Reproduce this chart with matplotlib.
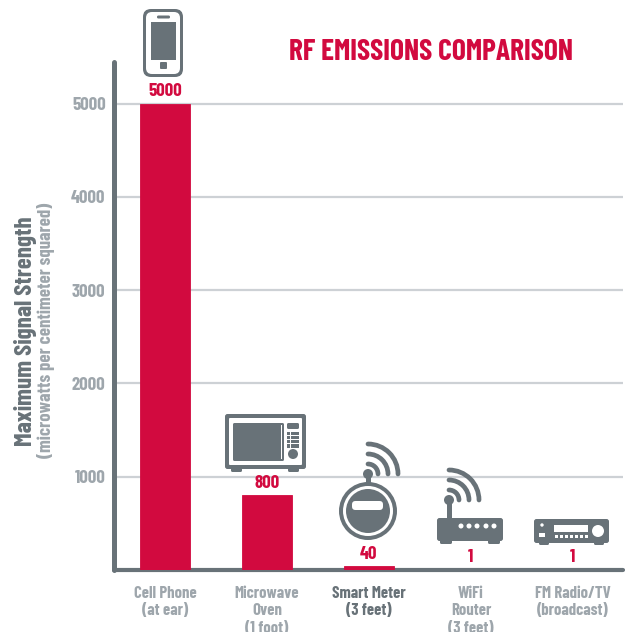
import matplotlib
matplotlib.use("Agg")
import matplotlib.pyplot as plt
from matplotlib.patches import FancyBboxPatch, Circle, Rectangle, Arc

# data
devices = ["Cell Phone\n(at ear)", "Microwave\nOven\n(1 foot)", "Smart Meter\n(3 feet)",
           "WiFi\nRouter\n(3 feet)", "FM Radio/TV\n(broadcast)"]
strength = [5000, 800, 40, 1, 1]
y_ticks = [1000, 2000, 3000, 4000, 5000]

RED = "#d20a3f"
DARK = "#687278"
GREY = "#9ea6ac"
GRID = "#cdd1d5"

plt.rcParams["font.family"] = ["Barlow Condensed", "Roboto"]
plt.rcParams["font.weight"] = "bold"

W, H = 629, 632
fig = plt.figure(figsize=(W / 100, H / 100), dpi=100)

# axes placed so that x=0 is left axis line and y=0 the base line (570 px)
left, right, top, bottom = 114, 623, 62, 570
ax = fig.add_axes([left / W, 1 - bottom / H, (right - left) / W, (bottom - top) / H])
ax.patch.set_alpha(0)
ax.set_ylim(0, (bottom - top) / 93.3 * 1000)
step = 102
ax.set_xlim((left - 165) / step, (right - 165) / step)

ax.set_axisbelow(True)
ax.yaxis.grid(True, color=GRID, lw=1.6)
bars = ax.bar(range(len(devices)), strength, width=50 / step, color=RED, edgecolor=RED, lw=0.6, zorder=3)
ax.bar_label(bars, labels=[str(v) for v in strength], padding=2.7, color=RED, fontsize=13.5, fontweight="bold")

ax.set_yticks(y_ticks)
ax.set_yticklabels([str(v) for v in y_ticks], color=GREY, fontsize=13.5)
ax.set_xticks(range(len(devices)))
ax.set_xticklabels(devices, color=GREY, fontsize=12, linespacing=1.2)
ax.get_xticklabels()[2].set_color(DARK)
ax.tick_params(axis="y", length=0, pad=6)
ax.tick_params(axis="x", length=0, pad=11.5)

for s in ["top", "right"]:
    ax.spines[s].set_visible(False)
ax.spines["left"].set_color(DARK)
ax.spines["left"].set_linewidth(3.6)
ax.spines["left"].set_capstyle("round")
ax.spines["bottom"].set_color(DARK)
ax.spines["bottom"].set_linewidth(3)
ax.spines["bottom"].set_capstyle("round")

fig.text(431 / W, 1 - 53 / H, "RF EMISSIONS COMPARISON", color=RED, fontsize=21.3,
         ha="center", va="center", fontweight="bold")
fig.text(26 / W, 1 - 331 / H, "Maximum Signal Strength", color=DARK, fontsize=18,
         rotation=90, ha="center", va="center")
fig.text(46 / W, 1 - 330 / H, "(microwatts per centimeter squared)", color=GREY, fontsize=13.5,
         rotation=90, ha="center", va="center")

# icon layer, in image pixels
ic = fig.add_axes([0, 0, 1, 1])
ic.set_xlim(0, W)
ic.set_ylim(H, 0)
ic.axis("off")
ic.patch.set_alpha(0)


def box(x0, y0, x1, y1, color=DARK, r=1.5, z=5):
    ic.add_patch(FancyBboxPatch((x0 + r, y0 + r), x1 - x0 - 2 * r, y1 - y0 - 2 * r,
                                boxstyle="round,pad=%f,rounding_size=%f" % (r, r),
                                fc=color, ec="none", zorder=z))


def dot(x, y, r, color=DARK, z=6):
    ic.add_patch(Circle((x, y), r, fc=color, ec="none", zorder=z))


def waves(x, y, radii=(10, 20, 30)):
    for r in radii:
        ic.add_patch(Arc((x, y), 2 * r, 2 * r, theta1=270, theta2=360, color=DARK,
                         lw=3.4, capstyle="round", zorder=5))


# phone
box(143, 9, 183, 77, r=8)
box(146, 12, 180, 74, color="white", r=6, z=5.5)
ic.add_patch(Rectangle((151, 22), 25, 37.5, fc=DARK, ec="none", zorder=6))
box(157, 15.5, 170, 18.5, r=1.4, z=6)
box(160, 62, 167, 69, r=1, z=6)

# microwave
box(225, 414, 306, 469, r=2.5)
box(229, 418, 302, 465, color="white", r=1, z=5.5)
box(233, 423, 284, 461, z=6)
ic.add_patch(Rectangle((280.5, 425), 1.5, 34, fc="white", ec="none", zorder=6.5))
box(287, 423, 299, 429, z=6)
for row in range(4):
    for col in range(3):
        ic.add_patch(Rectangle((287 + col * 4.2, 431.5 + row * 4.2), 3.4, 3.4, fc=DARK, ec="none", zorder=6))
dot(293, 454, 5)
box(231, 468, 242, 472, r=1.5)
box(288, 468, 299, 472, r=1.5)

# smart meter
dot(368, 511, 29, z=5)
dot(368, 511, 25, color="white", z=5.5)
dot(368, 511, 22, z=6)
box(352, 501, 383, 510, color="white", r=3.5, z=7)
ic.add_patch(Rectangle((366, 474), 4.5, 12, fc=DARK, ec="none", zorder=5))
dot(368, 474, 5)
waves(368, 474)

# router
box(437, 518, 503, 541, r=2.5)
box(440, 539, 452, 544, r=1.5)
box(488, 539, 500, 544, r=1.5)
ic.add_patch(Rectangle((447, 500), 4.5, 20, fc=DARK, ec="none", zorder=5))
dot(449, 500, 5)
waves(449, 500)
for x in [461, 469, 477, 486, 494]:
    dot(x, 526, 2.5, color="white")

# receiver
box(534, 519, 609, 543, r=2.5)
box(539, 541, 549, 545, r=1.5)
box(594, 541, 604, 545, r=1.5)
ic.add_patch(Rectangle((554, 525), 34, 7, fc="white", ec="none", zorder=6))
dot(598, 531, 6, color="white")
dot(542, 525, 1.7, color="white")
ic.add_patch(Rectangle((539, 533), 6, 4, fc="white", ec="none", zorder=6))
for i in range(7):
    ic.add_patch(Rectangle((554.5 + i * 5, 534.5), 3.4, 3.4, fc="white", ec="none", zorder=6))

fig.savefig("out.png", dpi=100)
